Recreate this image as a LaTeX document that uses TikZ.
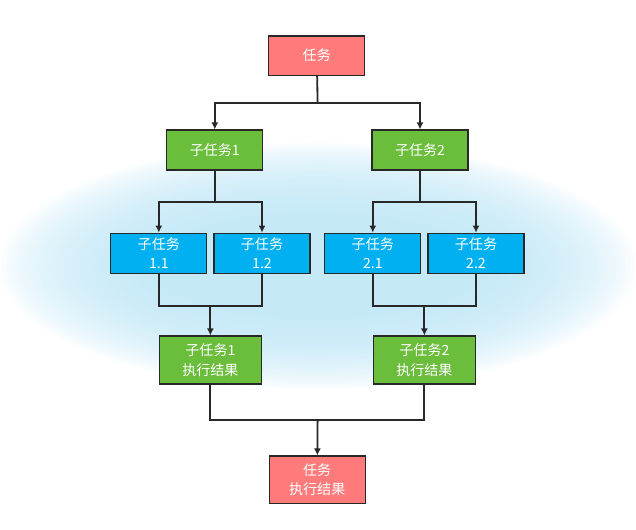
\documentclass[tikz,border=0pt]{standalone}
\usepackage{fontspec}
\usepackage{xcolor}
\usetikzlibrary{arrows.meta}
\newfontfamily\cjk{Noto Sans CJK SC}
\definecolor{taskred}{RGB}{255,123,123}
\definecolor{subgreen}{RGB}{107,189,60}
\definecolor{leafblue}{RGB}{0,176,240}
\definecolor{glowblue}{RGB}{190,230,246}
\definecolor{linegray}{RGB}{40,40,40}
\begin{document}
\begin{tikzpicture}[
    box/.style={draw=linegray, line width=0.8pt, text=white, align=center,
        minimum width=2.4cm, minimum height=1cm, inner sep=1pt,
        font=\cjk\fontsize{10}{14}\selectfont},
    taskbox/.style={box, fill=taskred},
    subbox/.style={box, fill=subgreen},
    leafbox/.style={box, fill=leafblue},
    link/.style={draw=linegray, line width=1.3pt},
    arr/.style={link, -{Latex[length=5pt,width=5pt]}}
    ]
            \useasboundingbox (0,0) rectangle (15.9,13.25);
            \foreach \i in {0,...,39}
                \fill[glowblue, opacity=0.05] (7.95,6.6) ellipse ({8.0-\i*0.1} and {3.1-\i*0.0475});
            \node[taskbox, minimum height=0.98cm] (task) at (7.92,11.86) {任务};
            \node[subbox] (sub1) at (5.37,9.5) {子任务1};
            \node[subbox] (sub2) at (10.5,9.5) {子任务2};
            \node[leafbox] (s11) at (3.97,6.92) {子任务\\1.1};
            \node[leafbox] (s12) at (6.55,6.92) {子任务\\1.2};
            \node[leafbox] (s21) at (9.32,6.92) {子任务\\2.1};
            \node[leafbox] (s22) at (11.9,6.92) {子任务\\2.2};
            \node[subbox, minimum width=2.56cm, minimum height=1.2cm] (res1) at (5.26,4.25) {子任务1\\执行结果};
            \node[subbox, minimum width=2.56cm, minimum height=1.2cm] (res2) at (10.61,4.25) {子任务2\\执行结果};
            \node[taskbox, minimum height=1.18cm] (final) at (7.93,1.26) {任务\\执行结果};
            \coordinate (j0) at (7.94,10.68);
            \coordinate (j1) at (5.37,8.2);
            \coordinate (j2) at (10.5,8.2);
            \coordinate (m1) at (5.26,5.61);
            \coordinate (m2) at (10.61,5.61);
            \coordinate (m0) at (7.94,2.75);
            \draw[link] (task) -- (j0);
            \draw[arr] (j0) -| (sub1);
            \draw[arr] (j0) -| (sub2);
            \draw[link] (sub1) -- (j1);
            \draw[arr] (j1) -| (s11);
            \draw[arr] (j1) -| (s12);
            \draw[link] (sub2) -- (j2);
            \draw[arr] (j2) -| (s21);
            \draw[arr] (j2) -| (s22);
            \draw[link] (s11) |- (m1) -| (s12);
            \draw[arr] (m1) -- (res1);
            \draw[link] (s21) |- (m2) -| (s22);
            \draw[arr] (m2) -- (res2);
            \draw[link] (res1) |- (m0) -| (res2);
            \draw[arr] (m0) -- (final);
        \end{tikzpicture}
\end{document}
